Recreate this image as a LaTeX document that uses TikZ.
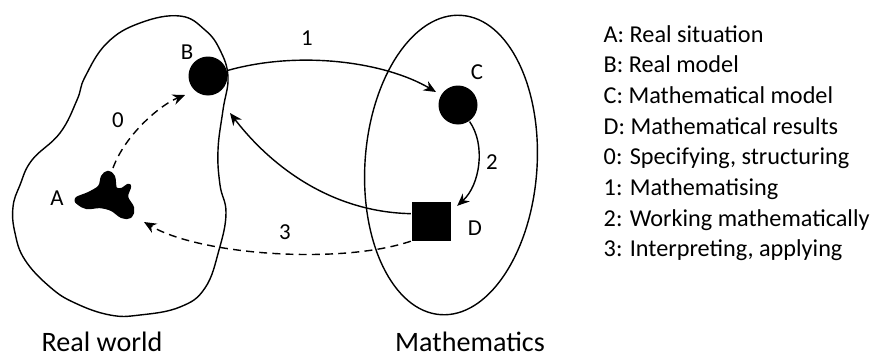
\documentclass[tikz,border=0pt]{standalone}
\usepackage{fontspec}
\setmainfont{Carlito}
\usetikzlibrary{positioning, arrows.meta, calc}

\begin{document}
\begin{tikzpicture}[x=0.02cm, y=-0.02cm, line width=0.8pt,
  flow/.style={-{Stealth[length=7pt,width=6pt]}},
  flowdash/.style={flow, dash pattern=on 4.5pt off 3pt},
  dot/.style={circle, fill, inner sep=0pt, minimum size=0.78cm},
  tag/.style={font=\fontsize{13}{15}\selectfont},
  world/.style={inner sep=1pt, font=\fontsize{16}{18}\selectfont},
  keyline/.style={anchor=base west, inner sep=0pt, font=\fontsize{13.8}{17}\selectfont}]
  \useasboundingbox (0,0) rectangle (882,359);
  \draw plot[smooth cycle, tension=0.7] coordinates {(180,16) (205,30) (220,50) (228,77) (223,110) (218,150) (220,185) (226,213) (219,250) (205,288) (180,307) (140,315) (110,315) (75,303) (50,287) (25,260) (15,233) (13,207) (20,185) (32,160) (60,133) (77,100) (85,77) (107,43) (140,23)};
  \draw[rotate around={-4:(451,165)}] (451,165) ellipse [x radius=86, y radius=150];

  \node[inner sep=0pt, minimum width=1.16cm, minimum height=0.96cm] (sit) at (104,195) {};
  \filldraw[line width=2.5pt, line join=round] plot[smooth cycle, tension=0.6] coordinates {(77,199) (89,194) (100,187) (103,177) (108,173) (113,177) (115,189) (122,190) (129,186) (126,197) (132,208) (130,216) (122,216) (112,209) (100,206) (87,207) (79,203)};
  \node[dot] (rmod) at (208,76) {};
  \node[dot] (mmod) at (458,105) {};
  \node[fill, inner sep=0pt, minimum size=0.78cm] (mres) at (431,221) {};

  \node[tag] at (57,198) {A};
  \node[tag] at (187,52) {B};
  \node[tag] at (477,72) {C};
  \node[tag] at (475,228) {D};
  \node[tag] at (118,120) {0};
  \node[tag] at (307,38) {1};
  \node[tag] at (492,162) {2};
  \node[tag] at (285,232) {3};

  \draw[flowdash] ([shift={(9,-27)}]sit.center) .. controls (125,135) and (160,105) .. ([shift={(-23,19)}]rmod.center);
  \draw[flow] (rmod) .. controls (300,50) and (385,62) .. ([shift={(-22,-13)}]mmod.center);
  \draw[flow] (mmod) .. controls (486,145) and (480,185) .. ([shift={(6,5)}]mres.north east);
  \draw[flow] (mres.160) .. controls (330,212) and (270,165) .. ([shift={(22,37)}]rmod.center);
  \draw[flowdash] (mres.south west) .. controls (340,265) and (200,255) .. ([shift={(40,27)}]sit.center);

  \node[world] (rw) at (102,342) {Real world};
  \node[world] (mw) at (470,342) {Mathematics};
  \foreach \t [count=\i] in {A: Real situation, B: Real model, C: Mathematical model,
      D: Mathematical results, {0: Specifying, structuring}, 1: Mathematising,
      2: Working mathematically, {3: Interpreting, applying}}
    \node[keyline] (key\i) at (603,11.3+30.7*\i) {\t};
\end{tikzpicture}
\end{document}
